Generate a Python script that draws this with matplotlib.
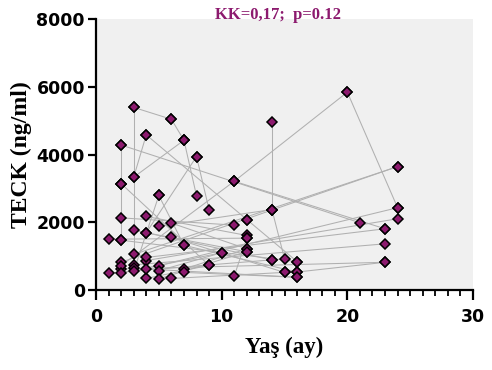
import matplotlib
matplotlib.use("Agg")
import matplotlib.pyplot as plt
from matplotlib.ticker import MultipleLocator

# Paired TECK measurements: each pair is (age, TECK) at first and second sampling
age_a = [3, 3, 6, 7, 3, 2, 2, 4, 4, 8, 8, 11, 20, 11, 11, 14, 14, 14, 2, 5,
         5, 2, 4, 1, 2, 3, 6, 6, 4, 7, 3, 2, 5, 4, 3, 2, 16, 9, 10, 11,
         16, 14, 12, 7, 7, 6, 5, 5, 4, 2]
teck_a = [5390, 5390, 5040, 4420, 3330, 4280, 4280, 4580, 4580, 3940, 3940,
          3210, 5840, 3210, 3210, 4960, 2375, 2375, 3140, 2790, 2790, 2130,
          2170, 1500, 1470, 1770, 1975, 1550, 1690, 1320, 1050, 820, 720, 870,
          740, 620, 530, 730, 1100, 410, 375, 890, 2080, 620, 520, 340, 570,
          330, 960, 3140]
age_b = [6, 3, 7, 8, 7, 2, 21, 3, 12, 4, 9, 20, 24, 23, 2, 14, 15, 5, 2, 3,
         7, 11, 12, 12, 16, 14, 12, 15, 12, 16, 24, 24, 24, 24, 23, 23, 23, 4,
         2, 12, 4, 1, 16, 12, 16, 15, 10, 12, 23, 9]
teck_b = [5040, 640, 4420, 2780, 4420, 3140, 1985, 3330, 2080, 1690, 2370,
          5840, 2430, 1807, 720, 2375, 925, 1880, 1470, 550, 1320, 1915, 1610,
          1530, 838, 890, 1215, 520, 1130, 530, 3644, 3644, 2430, 2104, 1363,
          818, 818, 340, 500, 1530, 620, 500, 838, 1215, 375, 520, 1100, 1130,
          1807, 730]

x_ticks = [0, 10, 20, 30]
y_ticks = [0, 2000, 4000, 6000, 8000]
title_text = "KK=0,17;  p=0.12"
x_label = "Yaş (ay)"
y_label = "TECK (ng/ml)"

marker_fill = "#8c1a6e"
line_gray = "#b0b0b0"

fig = plt.figure(figsize=(4.92, 3.70), dpi=100)
ax = fig.add_axes([96 / 492, 1 - 290 / 370, (473 - 96) / 492, (290 - 19) / 370])
ax.set_facecolor("#f0f0f0")

for x0, y0, x1, y1 in zip(age_a, teck_a, age_b, teck_b):
    ax.plot([x0, x1], [y0, y1], color=line_gray, lw=0.75, zorder=2)

ax.plot(age_a + age_b, teck_a + teck_b, linestyle="none", marker="D",
        markersize=5.5, markerfacecolor=marker_fill, markeredgecolor="black",
        markeredgewidth=1.1, zorder=3)

ax.set_xlim(0, 30)
ax.set_ylim(0, 8000)
ax.set_xticks(x_ticks)
ax.set_yticks(y_ticks)
ax.xaxis.set_minor_locator(MultipleLocator(1))

for side in ("top", "right"):
    ax.spines[side].set_visible(False)
for side in ("left", "bottom"):
    ax.spines[side].set_linewidth(1.6)
    ax.spines[side].set_color("black")

ax.tick_params(axis="y", which="major", length=6, width=1.6,
               colors="black", labelsize=12.5, pad=2)
ax.tick_params(axis="x", which="major", length=7, width=1.6,
               colors="black", labelsize=12.5, pad=6)
ax.tick_params(axis="x", which="minor", length=4.5, width=1.3, colors="black")
for lab in ax.get_xticklabels() + ax.get_yticklabels():
    lab.set_fontfamily("DejaVu Sans")
    lab.set_fontweight("bold")

serif = ["Liberation Serif", "DejaVu Serif"]
ax.set_xlabel(x_label, fontsize=16.5, fontweight="bold", family=serif, labelpad=8)
ax.set_ylabel(y_label, fontsize=17, fontweight="bold", family=serif, labelpad=3)
fig.text(0.565, 1 - 19 / 370, title_text, fontsize=12, fontweight="bold",
         family=serif, color=marker_fill, ha="center", va="baseline")

fig.savefig("out.png", dpi=100)
